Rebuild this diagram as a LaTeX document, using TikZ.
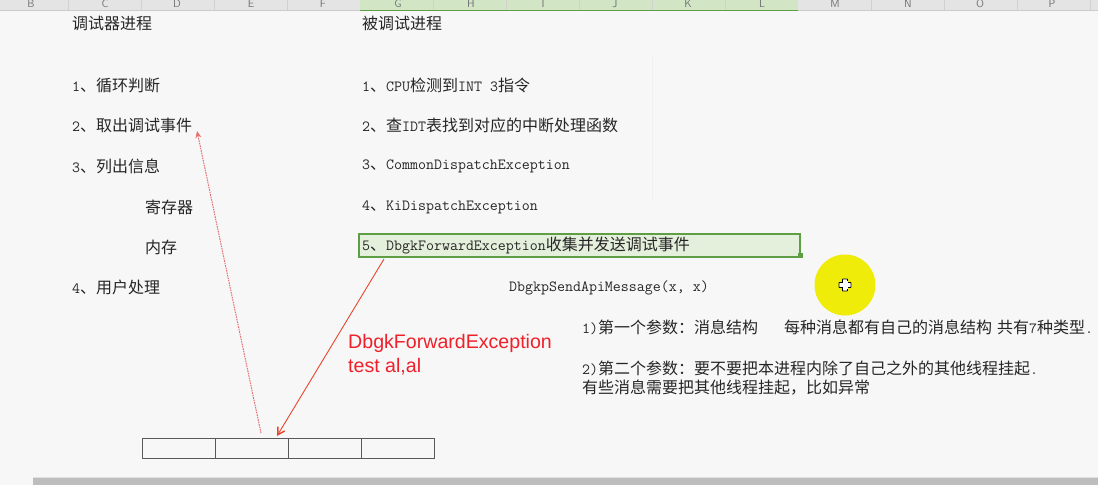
\documentclass[tikz,border=0pt]{standalone}
\usepackage{fontspec}
\usetikzlibrary{arrows.meta}
\newfontfamily\cjkf{Noto Sans CJK SC}
\newfontfamily\redf{Liberation Sans}
\newcommand\Cj[1]{{\cjkf\fontsize{16}{18}\selectfont #1}}
\newcommand\Mo[1]{{\ttfamily\fontsize{15.5}{18}\selectfont #1}}
\definecolor{bgc}{HTML}{F7F7F7}
\definecolor{hdr}{HTML}{E4E4E4}
\definecolor{hdrg}{HTML}{D2E6C6}
\definecolor{gline}{HTML}{5E9E44}
\definecolor{boxg}{HTML}{E4EFDC}
\definecolor{txt}{HTML}{262626}
\definecolor{arrowpink}{HTML}{E27272}
\definecolor{arrowred}{HTML}{E8452C}
\definecolor{redtxt}{HTML}{F0202A}
\definecolor{curs}{HTML}{F0EC0A}
\tikzset{
  lbl/.style={anchor=west, inner sep=0pt, text=txt},
  col/.style={inner sep=0pt, text=black!55, font=\sffamily\fontsize{11}{12}\selectfont},
  cell/.style={draw=black!65, line width=1.1pt, minimum width=73pt, minimum height=20pt, inner sep=0pt, anchor=north west},
  redlbl/.style={anchor=west, inner sep=0pt, text=redtxt, font=\redf\fontsize{19.6}{24}\selectfont, align=left},
}
\begin{document}
\begin{tikzpicture}[x=1pt,y=-1pt]
\useasboundingbox (0,0) rectangle (1098,485);
\fill[bgc] (0,0) rectangle (1098,485);
% header
\fill[hdr] (0,0) rectangle (1098,10.5);
\fill[hdrg] (360,0) rectangle (798,10.5);
\draw[black!20, line width=0.8pt] (0,10.5) -- (1098,10.5);
\draw[gline, line width=1.6pt] (360,10.5) -- (798,10.5);
\foreach \x in {68,141,214,287,433,506,579,652,725,871,944,1017,1090}
  \draw[black!18, line width=0.6pt] (\x,0) -- (\x,10);
\begin{scope}
\clip (0,0) rectangle (1098,10);
\foreach \l/\x in {B/31,C/105,D/177,E/251,F/323,G/398,H/471,I/543,J/615,K/688,L/762,M/835,N/908,O/980,P/1052}
  \node[col] (col\l) at (\x,3.5) {\l};
\end{scope}
% faint grid remnants
\draw[black!6, line width=0.8pt] (652,55) -- (652,200);
% left column
\node[lbl] (dbg) at (72,23) {\Cj{调试器进程}};
\node[lbl] (l1) at (72,85) {\Mo{1}\Cj{、循环判断}};
\node[lbl] (l2) at (72,125) {\Mo{2}\Cj{、取出调试事件}};
\node[lbl] (l3) at (72,166) {\Mo{3}\Cj{、列出信息}};
\node[lbl] (reg) at (145,207) {\Cj{寄存器}};
\node[lbl] (mem) at (145,247) {\Cj{内存}};
\node[lbl] (l4) at (72,287) {\Mo{4}\Cj{、用户处理}};
% right column
\node[lbl] (dbe) at (362,23) {\Cj{被调试进程}};
\node[lbl] (r1) at (362,85) {\Mo{1}\Cj{、}\Mo{CPU}\Cj{检测到}\Mo{INT 3}\Cj{指令}};
\node[lbl] (r2) at (362,125) {\Mo{2}\Cj{、查}\Mo{IDT}\Cj{表找到对应的中断处理函数}};
\node[lbl] (r3) at (362,166) {\Mo{3}\Cj{、}\Mo{CommonDispatchException}};
\node[lbl] (r4) at (362,207) {\Mo{4}\Cj{、}\Mo{KiDispatchException}};
\fill[boxg] (359,234) rectangle (800,257);
\draw[gline, line width=2pt] (359,234) rectangle (800,257);
\fill[gline] (797.5,252.5) rectangle (802.5,257.5);
\node[lbl] (r5) at (362,246) {\Mo{5}\Cj{、}\Mo{DbgkForwardException}\Cj{收集并发送调试事件}};
\node[lbl] (api) at (509,288) {\Mo{DbgkpSendApiMessage(x, x)}};
\node[lbl] (p1) at (582,327) {\Mo{1)}\Cj{第一个参数：消息结构}\hspace{26pt}\Cj{每种消息都有自己的消息结构}\hspace{5pt}\Cj{共有}\Mo{7}\Cj{种类型}\Mo{.}};
\node[lbl] (p2) at (582,368) {\Mo{2)}\Cj{第二个参数：要不要把本进程内除了自己之外的其他线程挂起}\Mo{.}};
\node[lbl] (p3) at (582,388) {\Cj{有些消息需要把其他线程挂起，比如异常}};
% red annotation
\node[redlbl] (note) at (348,355) {DbgkForwardException\\test al,al};
% cells
\node[cell] (c1) at (142,438) {};
\node[cell] (c2) at (215,438) {};
\node[cell] (c3) at (288,438) {};
\node[cell] (c4) at (361,438) {};
% arrows
\coordinate (t1) at (261,433);
\coordinate (h1) at (197,131);
\draw[arrowpink, line width=1pt, dash pattern=on 1.6pt off 0.9pt, -{Stealth[length=7pt,width=6pt,open]}] (t1) -- (h1);
\coordinate (s2) at (384,259);
\coordinate (h2) at (277,436);
\draw[arrowred, line width=0.9pt, -{Straight Barb[length=7pt,width=8pt,line width=1.4pt]}] (s2) -- (h2);
% cursor highlight
\fill[curs] (845,285) circle (30.5);
\node[draw=black, line width=0.8pt, fill=white, inner sep=0pt, minimum width=5pt, minimum height=12pt, rounded corners=0.5pt] (cv) at (845,285) {};
\node[draw=black, line width=0.8pt, fill=white, inner sep=0pt, minimum width=12pt, minimum height=5pt, rounded corners=0.5pt] (ch) at (845,285) {};
\fill[white] (842.5,281) rectangle (847.5,289);
% bottom bar
\fill[black!26] (33,478) rectangle (1098,485);
\draw[black!12, line width=0.6pt] (33,477.5) -- (1098,477.5);
\end{tikzpicture}
\end{document}
